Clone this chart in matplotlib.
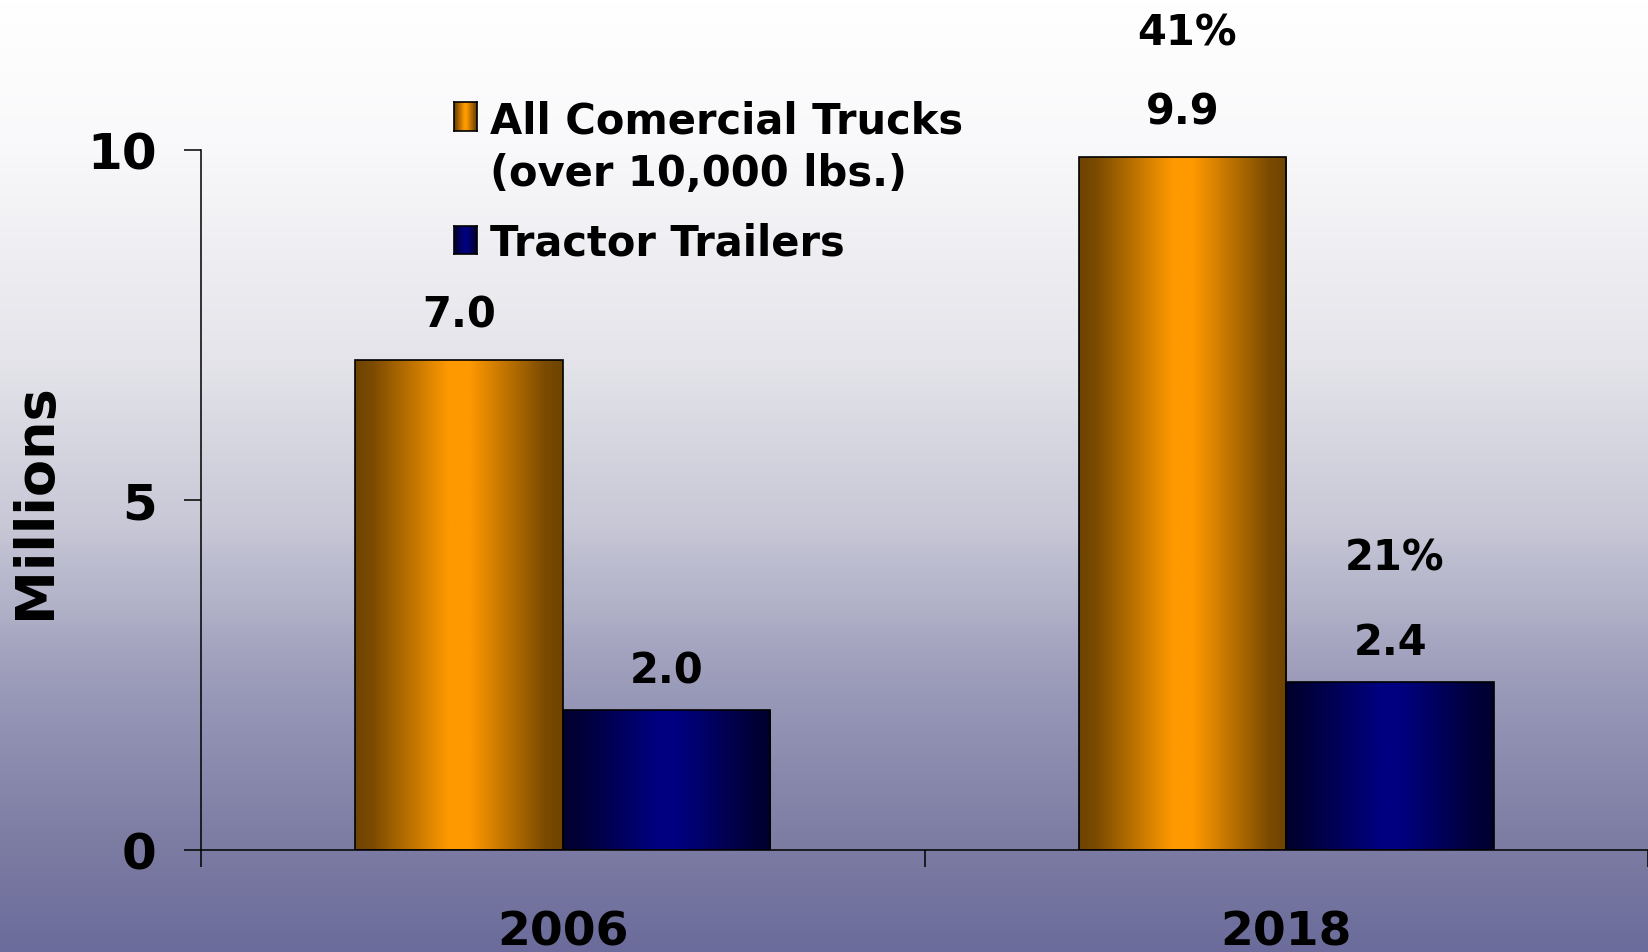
import numpy as np
import matplotlib
matplotlib.use("Agg")
import matplotlib.pyplot as plt
from matplotlib.colors import LinearSegmentedColormap

# data
years = ["2006", "2018"]
all_trucks = [7.0, 9.9]
tractor_trailers = [2.0, 2.4]
growth_labels = ["41%", "21%"]
series_names = ["All Comercial Trucks", "(over 10,000 lbs.)", "Tractor Trailers"]
y_ticks = [0, 5, 10]

plt.rcParams["font.family"] = "DejaVu Sans"
plt.rcParams["font.weight"] = "bold"

W, H = 1648, 953
fig = plt.figure(figsize=(W / 100, H / 100), dpi=100)

# vertical background gradient, white at the top to slate blue at the bottom
bg_cmap = LinearSegmentedColormap.from_list("bg", [
    (0.0, "#ffffff"), (0.15, "#f9f9fb"), (0.38, "#e4e4ea"), (0.55, "#c8c8d7"),
    (0.73, "#9898b8"), (0.9, "#7a7aa2"), (1.0, "#6c6c9c")])
bg = fig.add_axes([0, 0, 1, 1], zorder=-10)
bg.imshow(np.linspace(0, 1, 256).reshape(-1, 1), cmap=bg_cmap, aspect="auto",
          extent=(0, 1, 0, 1), origin="upper")
bg.set_axis_off()

orange_cmap = LinearSegmentedColormap.from_list("orange", [
    (0.0, "#6e4400"), (0.08, "#7a4a00"), (0.45, "#ff9900"), (0.55, "#ff9900"),
    (0.92, "#7a4a00"), (1.0, "#6e4400")])
navy_cmap = LinearSegmentedColormap.from_list("navy", [
    (0.0, "#00002e"), (0.08, "#000038"), (0.45, "#000080"), (0.55, "#000080"),
    (0.92, "#000038"), (1.0, "#00002e")])
strip = np.linspace(0, 1, 256).reshape(1, -1)

ax = fig.add_axes([201 / W, (H - 851) / H, (W - 201) / W, 700 / H])
ax.set_facecolor("none")

x = np.arange(len(years)) + 0.5
width = 0.287

bars_a = ax.bar(x - width / 2, all_trucks, width, facecolor="none",
                edgecolor="black", linewidth=1.2, zorder=3)
bars_b = ax.bar(x + width / 2, tractor_trailers, width, facecolor="none",
                edgecolor="black", linewidth=1.2, zorder=3)

for bars, cmap in [(bars_a, orange_cmap), (bars_b, navy_cmap)]:
    for rect in bars:
        x0, w, h = rect.get_x(), rect.get_width(), rect.get_height()
        ax.imshow(strip, cmap=cmap, aspect="auto", extent=(x0, x0 + w, 0, h),
                  zorder=2)

# value labels, then growth labels over the 2018 bars
for bars, vals, off in [(bars_a, all_trucks, 24), (bars_b, tractor_trailers, 20)]:
    for rect, v in zip(bars, vals):
        ax.annotate(f"{v:.1f}", (rect.get_x() + rect.get_width() / 2, v),
                    xytext=(0, off), textcoords="offset points", ha="center",
                    va="baseline", fontsize=30, fontweight="bold",
                    annotation_clip=False)

for bars, vals, lbl in [(bars_a, all_trucks, growth_labels[0]),
                        (bars_b, tractor_trailers, growth_labels[1])]:
    rect, v = bars[-1], vals[-1]
    ax.annotate(lbl, (rect.get_x() + rect.get_width() / 2, v),
                xytext=(3, 81), textcoords="offset points", ha="center",
                va="baseline", fontsize=30, fontweight="bold",
                annotation_clip=False)

ax.set_xlim(0, 2)
ax.set_ylim(0, 10)
ax.set_xticks([0, 1, 2])
ax.set_xticklabels([])
ax.set_xticks(x, minor=True)
ax.set_xticklabels(years, minor=True, fontsize=34, fontweight="bold")
ax.tick_params(axis="x", which="major", length=12, width=1.1, direction="out")
ax.tick_params(axis="x", which="minor", length=0, pad=43)
ax.set_yticks(y_ticks)
ax.set_yticklabels([str(t) for t in y_ticks], fontsize=36, fontweight="bold")
ax.tick_params(axis="y", length=12, width=1.1, pad=20)

for side in ["top", "right"]:
    ax.spines[side].set_visible(False)
for side in ["left", "bottom"]:
    ax.spines[side].set_linewidth(1.1)

ax.set_ylabel("Millions", fontsize=39, fontweight="bold")
ax.yaxis.set_label_coords(-0.097, 0.5)

# legend drawn by hand so the marker lines up with the first text line
for cmap, (ly, lh) in [(orange_cmap, (103, 29)), (navy_cmap, (227, 28))]:
    lax = fig.add_axes([454 / W, 1 - (ly + lh) / H, 23 / W, lh / H])
    lax.imshow(strip, cmap=cmap, aspect="auto", extent=(0, 1, 0, 1))
    lax.set_xticks([])
    lax.set_yticks([])
    for s in lax.spines.values():
        s.set_linewidth(1.2)

for name, base in zip(series_names, [133, 186, 255]):
    fig.text(490 / W, 1 - base / H, name, fontsize=30, fontweight="bold",
             ha="left", va="baseline")

fig.savefig("out.png", dpi=100)
plt.close(fig)
